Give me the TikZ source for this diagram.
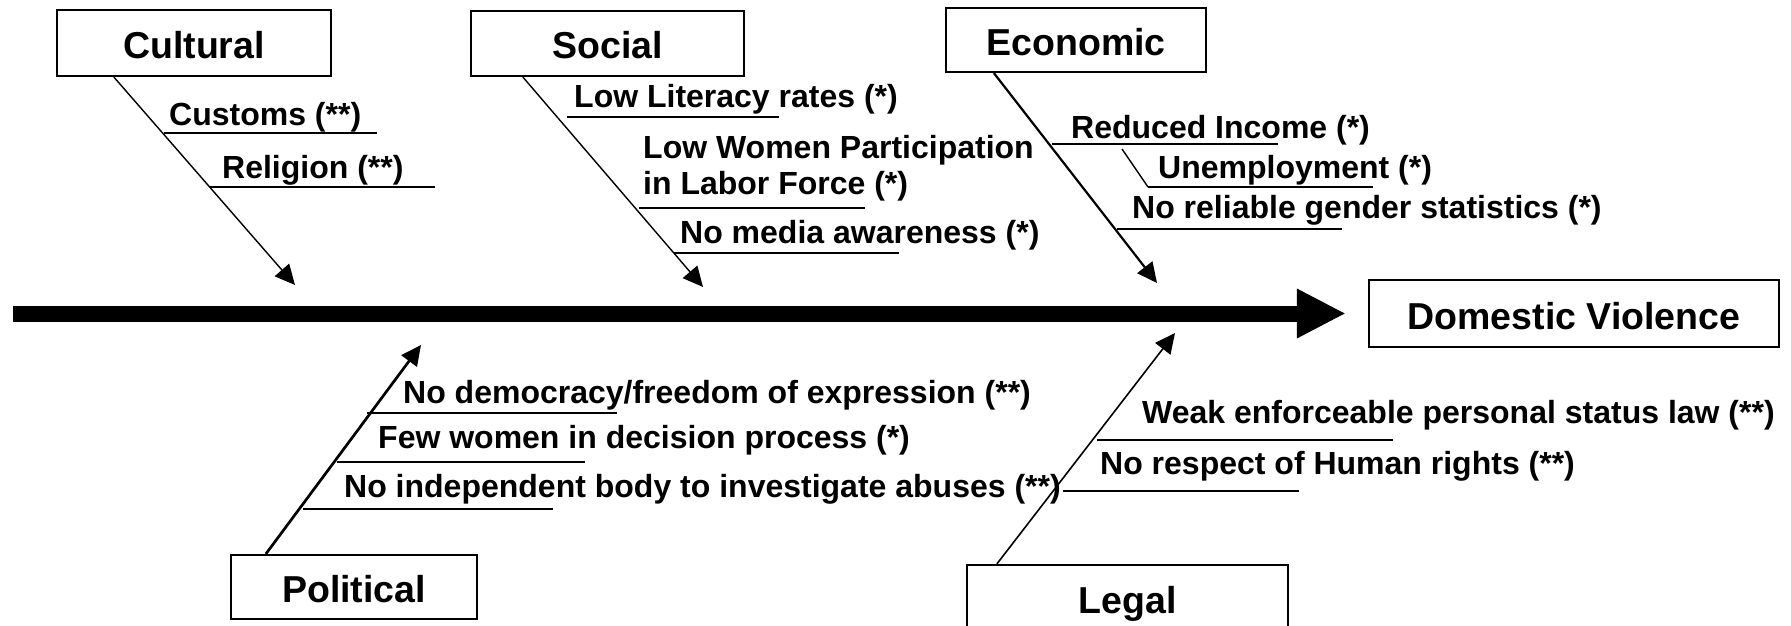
\documentclass[tikz,border=0pt]{standalone}
\usepackage{fontspec}
\setmainfont{Liberation Sans}
\usetikzlibrary{arrows.meta}
\begin{document}
\begin{tikzpicture}[x=1pt,y=-1pt,
  cat/.style={draw,line width=2.2pt,inner sep=0pt,
    font=\fontsize{37.5}{45}\selectfont\bfseries,text height=31pt,text depth=0pt},
  item/.style={inner sep=0pt,anchor=base west,font=\fontsize{32}{36}\selectfont\bfseries},
  rib/.style={line width=1.8pt},
  bone/.style={line width=1.4pt,-{Triangle[length=20pt,width=19pt]}},
  backbone/.style={line width=16pt,-{Triangle[length=49pt,width=46pt]}}]

% page frame
\clip (0,0) rectangle (1791,626);
\fill[white] (0,0) rectangle (1791,626);

% category boxes and the effect
\node[cat,minimum width=274pt,minimum height=66pt] (cult) at (194,43) {Cultural};
\node[cat,minimum width=273pt,minimum height=65pt] (soc) at (607.5,43.5) {Social};
\node[cat,minimum width=260pt,minimum height=64pt] (eco) at (1076,40) {Economic};
\node[cat,minimum width=410pt,minimum height=67pt] (dv) at (1574,313.5) {Domestic Violence};
\node[cat,minimum width=246pt,minimum height=64pt] (pol) at (354,587) {Political};
\node[cat,minimum width=321pt,minimum height=66pt] (leg) at (1127.5,598) {Legal};

% main spine
\coordinate (spineS) at (13,313.5);
\draw[backbone] (spineS) -- ([xshift=-22pt]dv.west);

% bone ends next to the spine
\coordinate (cultT) at (295,285);
\coordinate (socT) at (703,287);
\coordinate (ecoT) at (1157,283);
\coordinate (polT) at (421,345);
\coordinate (legT) at (1175,333);

\draw[bone] ([xshift=58pt]cult.south west) -- (cultT);
\draw[bone] ([xshift=53pt]soc.south west) -- (socT);
\draw[bone,line width=2.2pt] ([xshift=49pt]eco.south west) -- (ecoT);
\draw[bone,line width=2.7pt] ([xshift=36pt]pol.north west) -- (polT);
\draw[bone,line width=1.6pt] ([xshift=31pt]leg.north west) -- (legT);

% cultural causes
\node[item] (cus) at (169,125) {Customs (**)};
\draw[rib] (164,133) -- (377,133);
\node[item] (rel) at (222,178) {Religion (**)};
\draw[rib] (210,187) -- (435,187);

% social causes
\node[item] (lit) at (574,107) {Low Literacy rates (*)};
\draw[rib] (567,117) -- (779,117);
\node[item] (lwa) at (643,158) {Low Women Participation};
\node[item] (lwb) at (643,194) {in Labor Force (*)};
\draw[rib] (639,208) -- (865,208);
\node[item] (med) at (680,243) {No media awareness (*)};
\draw[rib] (674,253) -- (899,253);

% economic causes
\node[item] (inc) at (1071,138) {Reduced Income (*)};
\draw[rib] (1052,144) -- (1278,144);
\node[item] (une) at (1158,178) {Unemployment (*)};
\draw[line width=1.4pt] (1122,149) -- (1148,187);
\draw[rib] (1148,187) -- (1373,187);
\node[item] (gen) at (1132,218) {No reliable gender statistics (*)};
\draw[rib] (1117,229) -- (1342,229);

% political causes
\node[item] (dem) at (403,403) {No democracy/freedom of expression (**)};
\draw[rib] (367,413) -- (617,413);
\node[item] (few) at (378,448) {Few women in decision process (*)};
\draw[rib] (337,462) -- (585,462);
\node[item] (ind) at (344,497) {No independent body to investigate abuses (**)};
\draw[rib] (303,509) -- (553,509);

% legal causes
\node[item] (law) at (1142,423) {Weak enforceable personal status law (**)};
\draw[rib] (1097,440) -- (1393,440);
\node[item] (hum) at (1100,474) {No respect of Human rights (**)};
\draw[rib] (1063,491) -- (1299,491);
\end{tikzpicture}
\end{document}
